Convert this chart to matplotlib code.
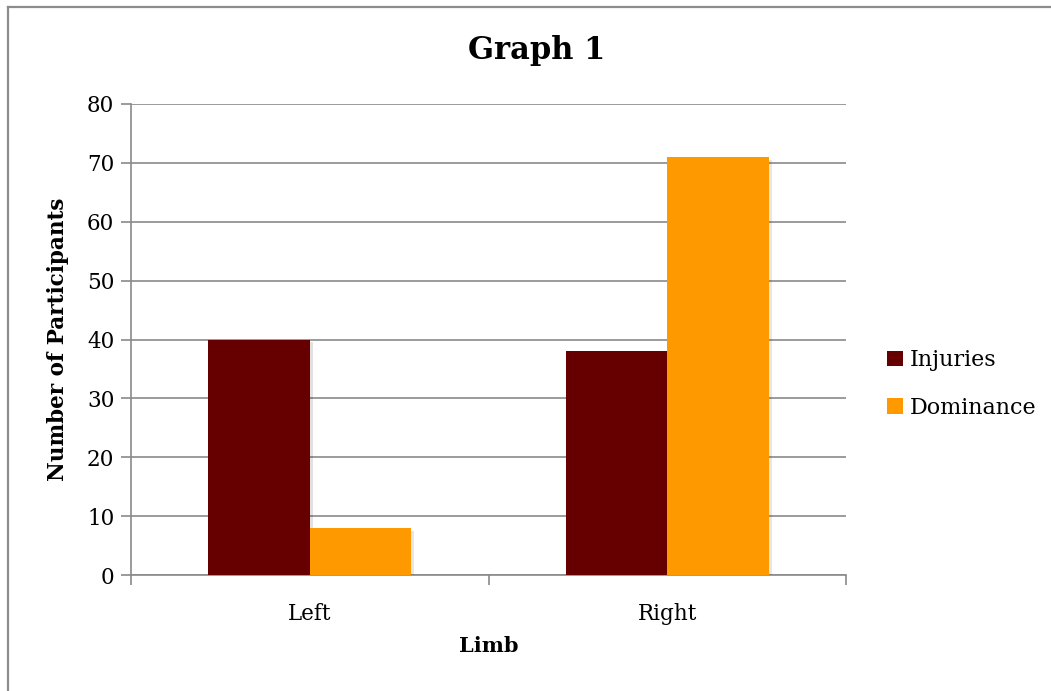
import numpy as np
import matplotlib.pyplot as plt
import matplotlib.patheffects as pe
from matplotlib.lines import Line2D

# chart data
limbs = ['Left', 'Right']
injuries = [40, 38]
dominance = [8, 71]

plt.rcParams['font.family'] = ['DejaVu Serif']

fig = plt.figure(figsize=(10.51, 6.91), dpi=100)
ax = fig.add_axes([131/1051, 1 - 575/691, (846 - 131)/1051, (575 - 104)/691])

x = np.arange(len(limbs))
w = 0.284
b1 = ax.bar(x - w/2, injuries, w, color='#660000', label='Injuries', zorder=3)
b2 = ax.bar(x + w/2, dominance, w, color='#ff9900', label='Dominance', zorder=3)

ax.set_xlim(-0.5, 1.5)
ax.set_ylim(0, 80)
ax.set_yticks(range(0, 81, 10))
ax.yaxis.grid(True, color='#8a8a8a', linewidth=1.2, zorder=0)
ax.set_axisbelow(True)

# tick marks on category boundaries, labels in the middle
ax.set_xticks([-0.5, 0.5, 1.5])
ax.set_xticklabels([])
ax.set_xticks(x, minor=True)
ax.set_xticklabels(limbs, minor=True, fontsize=15.5)
ax.tick_params(axis='x', which='minor', length=0, pad=20)
ax.tick_params(axis='x', which='major', length=7, width=1.2, color='#8a8a8a')
ax.tick_params(axis='y', length=7, width=1.2, color='#8a8a8a', labelsize=15.5, pad=5)

for s in ['top', 'right']:
    ax.spines[s].set_visible(False)
for s in ['left', 'bottom']:
    ax.spines[s].set_color('#8a8a8a')
    ax.spines[s].set_linewidth(1.2)

fig.text(537/1051, 1 - 50/691, 'Graph 1', fontsize=22, fontweight='bold',
         ha='center', va='center')
ax.set_xlabel('Limb', fontsize=15, fontweight='bold', labelpad=8)
ax.set_ylabel('Number of Participants', fontsize=15.5, fontweight='bold', labelpad=13)

ax.legend(loc='center left', bbox_to_anchor=(1.03, 0.405), frameon=False,
          fontsize=16, handlelength=0.7, handleheight=0.7, labelspacing=1.15,
          handletextpad=0.3)

# soft drop shadow on the bars only (legend keys stay flat)
shadow = [pe.SimplePatchShadow(offset=(2, -2), alpha=0.12), pe.Normal()]
for b in list(b1) + list(b2):
    b.set_path_effects(shadow)

# outer frame of the chart area
fig.add_artist(Line2D([7.5/1051, 1], [1 - 6.5/691, 1 - 6.5/691], color='#8c8c8c', lw=1.6,
                      transform=fig.transFigure))
fig.add_artist(Line2D([7.5/1051, 7.5/1051], [0, 1 - 6.5/691], color='#8c8c8c', lw=1.6,
                      transform=fig.transFigure))

fig.savefig('out.png', dpi=100)
